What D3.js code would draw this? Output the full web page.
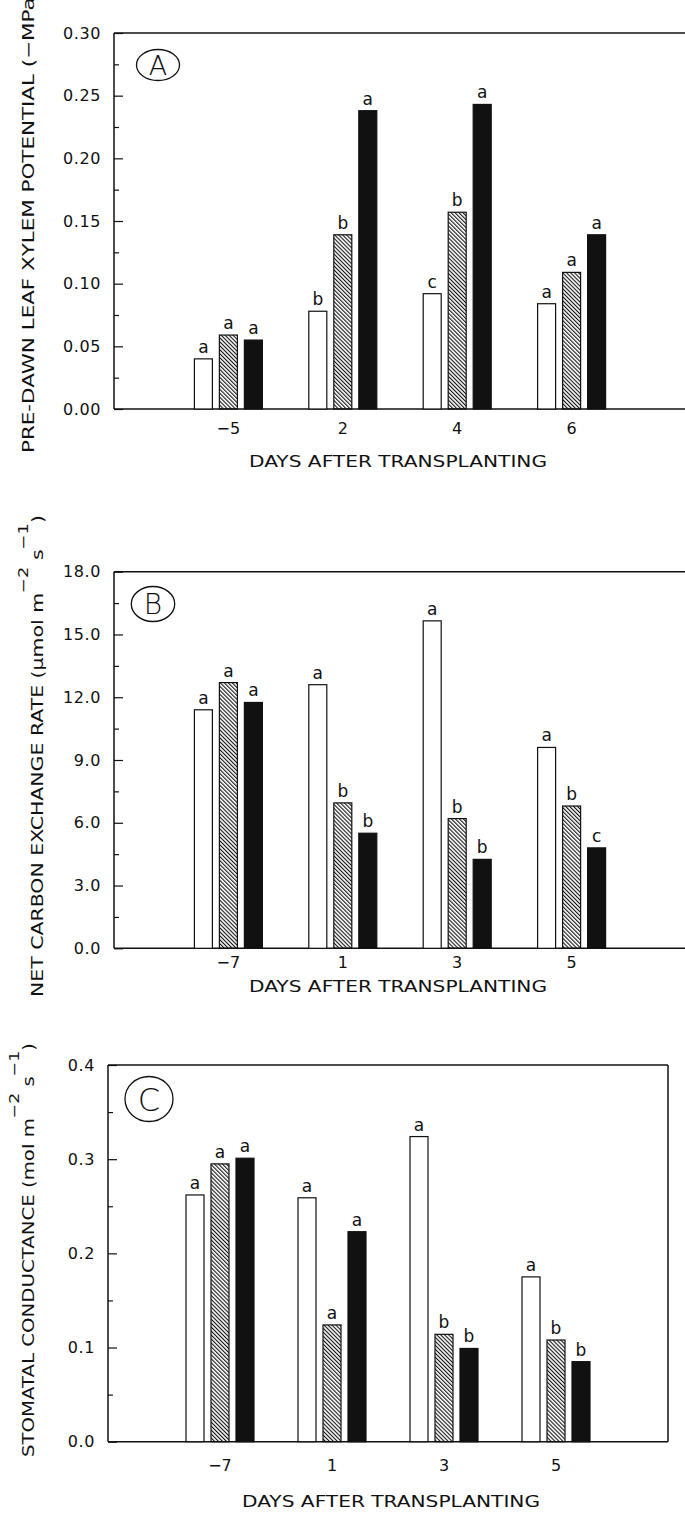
<!DOCTYPE html>
<html>
<head>
<meta charset="utf-8">
<script src="https://cdn.jsdelivr.net/npm/d3@7"></script>
<style>
  body { margin: 0; background: #fff; }
  svg { display: block; }
  text { font-family: "DejaVu Sans", "Liberation Sans", Arial, sans-serif; fill: #111; }
</style>
</head>
<body>
<div id="vis"></div>
<script>
// treatment series: open, hatched, solid
var seriesKeys = ["open", "hatched", "solid"];

// panel A - pre-dawn leaf xylem potential (-MPa)
var daysA = ["\u22125", "2", "4", "6"];
var psiOpen = [0.040, 0.078, 0.092, 0.084];
var psiHatched = [0.059, 0.139, 0.157, 0.109];
var psiSolid = [0.055, 0.238, 0.243, 0.139];
var psiLetters = [["a", "b", "c", "a"], ["a", "b", "b", "a"], ["a", "a", "a", "a"]];
var psiTicks = [0, 0.05, 0.10, 0.15, 0.20, 0.25, 0.30];

// panel B - net carbon exchange rate
var daysB = ["\u22127", "1", "3", "5"];
var cerOpen = [11.4, 12.6, 15.65, 9.6];
var cerHatched = [12.7, 6.95, 6.2, 6.8];
var cerSolid = [11.75, 5.5, 4.25, 4.8];
var cerLetters = [["a", "a", "a", "a"], ["a", "b", "b", "b"], ["a", "b", "b", "c"]];
var cerTicks = [0, 3, 6, 9, 12, 15, 18];

// panel C - stomatal conductance
var daysC = ["\u22127", "1", "3", "5"];
var gsOpen = [0.262, 0.259, 0.324, 0.175];
var gsHatched = [0.295, 0.124, 0.114, 0.108];
var gsSolid = [0.301, 0.223, 0.099, 0.085];
var gsLetters = [["a", "a", "a", "a"], ["a", "a", "b", "b"], ["a", "a", "b", "b"]];
var gsTicks = [0, 0.1, 0.2, 0.3, 0.4];

var xTitle = "DAYS AFTER TRANSPLANTING";

var width = 685, height = 1514;

var svg = d3.select("#vis").append("svg")
    .attr("width", width)
    .attr("height", height);

svg.append("defs").append("pattern")
    .attr("id", "hatch")
    .attr("patternUnits", "userSpaceOnUse")
    .attr("width", 2.8)
    .attr("height", 6)
    .attr("patternTransform", "rotate(-45)")
    .append("rect")
    .attr("x", 0).attr("y", 0)
    .attr("width", 1.1).attr("height", 6)
    .attr("fill", "#111");

var fills = {open: "#fff", hatched: "url(#hatch)", solid: "#111"};

var panels = [
    {
        tag: "A", days: daysA, series: [psiOpen, psiHatched, psiSolid], letters: psiLetters,
        ticks: psiTicks, fmt: d3.format(".2f"),
        x0: 114, x1: 686, top: 33, bottom: 409,
        tickY: 434, titleX: 398, titleY: 467,
        badge: {cx: 158, cy: 65, rx: 21.5, ry: 15.5, size: 27},
        yLab: {x: 34, cy: 221, len: 464, parts: [["PRE-DAWN LEAF XYLEM POTENTIAL (\u2212MPa)", 0]]}
    },
    {
        tag: "B", days: daysB, series: [cerOpen, cerHatched, cerSolid], letters: cerLetters,
        ticks: cerTicks, fmt: d3.format(".1f"),
        x0: 114, x1: 686, top: 571.7, bottom: 948.3,
        tickY: 968, titleX: 398, titleY: 992,
        badge: {cx: 153, cy: 604, rx: 21.7, ry: 17.5, size: 28},
        yLab: {x: 43, cy: 756, len: 482, parts: [["NET CARBON EXCHANGE RATE (\u03bcmol m", 0], ["\u22122", -15], [" s", 15], ["\u22121", -15], [")", 15]]}
    },
    {
        tag: "C", days: daysC, series: [gsOpen, gsHatched, gsSolid], letters: gsLetters,
        ticks: gsTicks, fmt: d3.format(".1f"),
        x0: 108, x1: 668, top: 1065, bottom: 1441.7,
        tickY: 1471, titleX: 391, titleY: 1507,
        badge: {cx: 149, cy: 1099, rx: 24, ry: 22.5, size: 32},
        yLab: {x: 34, cy: 1250, len: 414, parts: [["STOMATAL CONDUCTANCE (mol m", 0], ["\u22122", -15], [" s", 15], ["\u22121", -15], [")", 15]]}
    }
];

panels.forEach(drawPanel);

function drawPanel(p) {
    var g = svg.append("g");

    var x = d3.scalePoint()
        .domain(p.days)
        .range([p.x0, p.x1])
        .padding(1);

    var inner = d3.scaleBand()
        .domain(seriesKeys)
        .range([-37.5, 37.5])
        .paddingInner(0.28)
        .paddingOuter(0.14);

    var yMax = p.ticks[p.ticks.length - 1];
    var y = d3.scaleLinear()
        .domain([0, yMax])
        .range([p.bottom, p.top]);

    var minor = d3.range(p.ticks.length - 1).map(function (i) {
        return (p.ticks[i] + p.ticks[i + 1]) / 2;
    });

    // minor ticks
    g.append("g")
        .attr("transform", "translate(" + p.x0 + ",0)")
        .call(d3.axisLeft(y).tickValues(minor).tickSize(-5).tickFormat(""))
        .call(function (s) { s.select(".domain").remove(); })
        .selectAll("line").attr("stroke", "#111").attr("stroke-width", 1.2);

    // major ticks + labels
    var ax = g.append("g")
        .attr("transform", "translate(" + p.x0 + ",0)")
        .call(d3.axisLeft(y).tickValues(p.ticks).tickSize(-9).tickPadding(13).tickFormat(p.fmt));
    ax.select(".domain").remove();
    ax.selectAll("line").attr("stroke", "#111").attr("stroke-width", 1.2);
    ax.attr("font-family", null);
    ax.selectAll("text")
        .attr("font-size", 16)
        .attr("letter-spacing", "0.6px")
        .attr("fill", "#111");

    // frame
    var frame = g.append("g").attr("stroke", "#111").attr("stroke-width", 1.5).attr("fill", "none");
    frame.append("line").attr("x1", p.x0).attr("x2", p.x0).attr("y1", p.top).attr("y2", p.bottom);
    frame.append("line").attr("x1", p.x0).attr("x2", p.x1).attr("y1", p.top).attr("y2", p.top);
    frame.append("line").attr("x1", p.x0).attr("x2", p.x1).attr("y1", p.bottom).attr("y2", p.bottom);
    frame.append("line").attr("x1", p.x1).attr("x2", p.x1).attr("y1", p.top).attr("y2", p.bottom);

    // bars
    seriesKeys.forEach(function (key, si) {
        var rows = p.days.map(function (d, i) {
            return {day: d, value: p.series[si][i], letter: p.letters[si][i]};
        });
        g.append("g").selectAll("rect")
            .data(rows)
            .enter().append("rect")
            .attr("x", function (d) { return x(d.day) + inner(key); })
            .attr("y", function (d) { return y(d.value); })
            .attr("width", inner.bandwidth())
            .attr("height", function (d) { return y(0) - y(d.value); })
            .attr("fill", fills[key])
            .attr("stroke", "#111")
            .attr("stroke-width", 1.2);

        g.append("g").selectAll("text")
            .data(rows)
            .enter().append("text")
            .attr("x", function (d) { return x(d.day) + inner(key) + inner.bandwidth() / 2; })
            .attr("y", function (d) { return y(d.value) - 6; })
            .attr("text-anchor", "middle")
            .attr("font-size", 17)
            .text(function (d) { return d.letter; });
    });

    // x tick labels
    g.append("g").selectAll("text")
        .data(p.days)
        .enter().append("text")
        .attr("x", function (d) { return x(d); })
        .attr("y", p.tickY)
        .attr("text-anchor", "middle")
        .attr("font-size", 16)
        .text(function (d) { return d; });

    g.append("text")
        .attr("x", p.titleX)
        .attr("y", p.titleY)
        .attr("text-anchor", "middle")
        .attr("font-size", 16)
        .attr("textLength", 298)
        .attr("lengthAdjust", "spacingAndGlyphs")
        .text(xTitle);

    // y title
    var yl = g.append("text")
        .attr("transform", "translate(" + p.yLab.x + "," + p.yLab.cy + ") rotate(-90)")
        .attr("text-anchor", "middle")
        .attr("font-size", 16)
        .attr("textLength", p.yLab.len)
        .attr("lengthAdjust", "spacingAndGlyphs");
    p.yLab.parts.forEach(function (part) {
        yl.append("tspan")
            .attr("dy", part[1])
            .attr("font-size", part[1] < 0 ? 14 : 16)
            .text(part[0]);
    });

    // panel badge
    g.append("ellipse")
        .attr("cx", p.badge.cx).attr("cy", p.badge.cy)
        .attr("rx", p.badge.rx).attr("ry", p.badge.ry)
        .attr("fill", "none").attr("stroke", "#111").attr("stroke-width", 1.3);
    g.append("text")
        .attr("x", p.badge.cx)
        .attr("y", p.badge.cy)
        .attr("dy", "0.36em")
        .attr("text-anchor", "middle")
        .attr("font-size", p.badge.size)
        .attr("font-weight", 300)
        .text(p.tag);
}
</script>
</body>
</html>
